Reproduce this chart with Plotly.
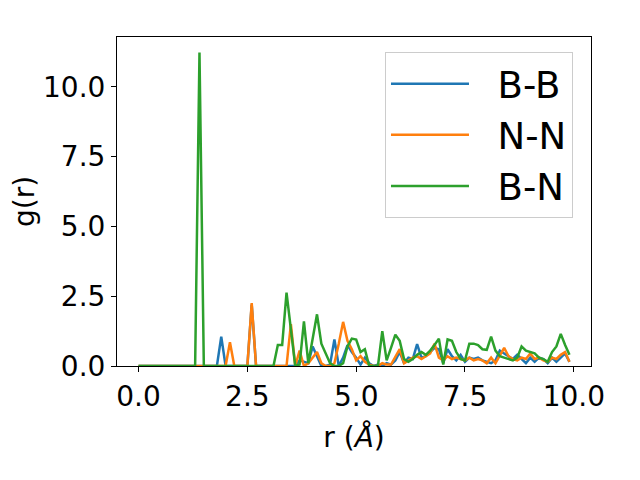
import plotly.graph_objs as go

# r grid (bin positions, Angstrom)
r = [round(0.1 * i, 1) for i in range(100)]

g_BB = [
    0, 0, 0, 0, 0, 0, 0, 0, 0, 0,
    0, 0, 0, 0, 0, 0, 0, 0, 0, 1.05,
    0, 0, 0, 0, 0, 0, 2.2, 0, 0, 0,
    0, 0, 0, 0, 0, 0, 0, 0.2, 0.15, 0.1,
    0.7, 0.35, 0, 0, 0.05, 0.95, 0, 0.3, 0.75, 0.5,
    0.3, 0.05, 0.3, 0.1, 0, 0.05, 0, 0.1, 0.05, 0.2,
    0.5, 0.1, 0.3, 0.25, 0.78, 0.3, 0.35, 0.5, 0.65, 0.6,
    0.1, 0.6, 0.35, 0.2, 0.4, 0.15, 0.3, 0.25, 0.3, 0.2,
    0.15, 0.1, 0.2, 0.55, 0.45, 0.35, 0.25, 0.4, 0.25, 0.1,
    0.3, 0.15, 0.3, 0.25, 0.1, 0.3, 0.15, 0.3, 0.45, 0.15,
]

g_NN = [
    0, 0, 0, 0, 0, 0, 0, 0, 0, 0,
    0, 0, 0, 0, 0, 0, 0, 0, 0, 0,
    0, 0.85, 0, 0, 0, 0, 2.25, 0, 0, 0,
    0, 0, 0, 0, 0, 1.5, 0, 0.55, 0, 0.1,
    0.3, 0.5, 0.1, 0, 0, 0.1, 0.8, 1.58, 0.9, 0.6,
    0.2, 0.35, 0.15, 0.05, 0, 0, 0.1, 0.05, 0.05, 0.3,
    0.6, 0.1, 0.2, 0.3, 0.35, 0.25, 0.35, 0.45, 0.8, 0.3,
    0.2, 0.35, 0.25, 0.3, 0.25, 0.2, 0.3, 0.2, 0.25, 0.2,
    0.1, 0.3, 0.1, 0.4, 0.65, 0.35, 0.25, 0.2, 0.3, 0.25,
    0.45, 0.25, 0.3, 0.2, 0.15, 0.3, 0.25, 0.4, 0.5, 0.15,
]

g_BN = [
    0, 0, 0, 0, 0, 0, 0, 0, 0, 0,
    0, 0, 0, 0, 11.22, 0, 0, 0, 0, 0,
    0, 0, 0, 0, 0, 0, 0, 0, 0, 0,
    0, 0, 0.75, 0.75, 2.63, 1.2, 0, 0.05, 1.6, 0.1,
    0.95, 1.85, 0.8, 0.45, 0.1, 0, 0, 0.1, 0.7, 0.98,
    0.95, 0.5, 0.6, 0, 0, 0, 1.25, 0.2, 0.65, 1.12,
    0.9, 0.25, 0.15, 0.25, 0.4, 0.5, 0.4, 0.55, 0.75, 0.98,
    0.05, 0.95, 0.9, 0.5, 0.25, 0.2, 0.8, 0.8, 0.75, 0.6,
    0.58, 1.05, 0.55, 0.35, 0.3, 0.25, 0.2, 0.3, 0.7, 0.55,
    0.5, 0.45, 0.3, 0.25, 0.15, 0.5, 0.7, 1.15, 0.75, 0.4,
]

labels = ['B-B', 'N-N', 'B-N']
colors = ['#1f77b4', '#ff7f0e', '#2ca02c']
series = [g_BB, g_NN, g_BN]

fig = go.Figure()
for name, ys, c in zip(labels, series, colors):
    # two nbsp give the gap between line sample and label seen in the legend
    fig.add_trace(go.Scatter(x=r, y=ys, mode='lines', name='\u00a0\u00a0' + name,
                             line=dict(color=c, width=2.5)))

ticks = [0, 2.5, 5, 7.5, 10]
axis_style = dict(showline=True, mirror=True, linecolor='black', linewidth=1,
                  ticks='outside', ticklen=5, tickwidth=1, tickcolor='black',
                  showgrid=False, zeroline=False, tickvals=ticks,
                  ticktext=['%.1f' % t for t in ticks],
                  tickfont=dict(size=28, color='black'), automargin=False)

# the page body adds ~8px offset, margins are compensated for that
fig.update_layout(
    width=640, height=480,
    paper_bgcolor='white', plot_bgcolor='white',
    font=dict(family='DejaVu Sans', color='black'),
    margin=dict(l=109, r=57, t=29, b=122),
    xaxis=dict(range=[-0.495, 10.395],
               title=dict(text='r (<i>Å</i>)', font=dict(size=28)),
               **axis_style),
    yaxis=dict(range=[0, 11.78],
               title=dict(text='g(r)', font=dict(size=28)),
               **axis_style),
    legend=dict(x=0.962, y=0.954, xanchor='right', yanchor='top',
                font=dict(size=37), bgcolor='rgba(255,255,255,0.8)',
                bordercolor='#cccccc', borderwidth=1, tracegroupgap=0,
                itemwidth=78),
    showlegend=True,
)

fig.write_html("out.html")
